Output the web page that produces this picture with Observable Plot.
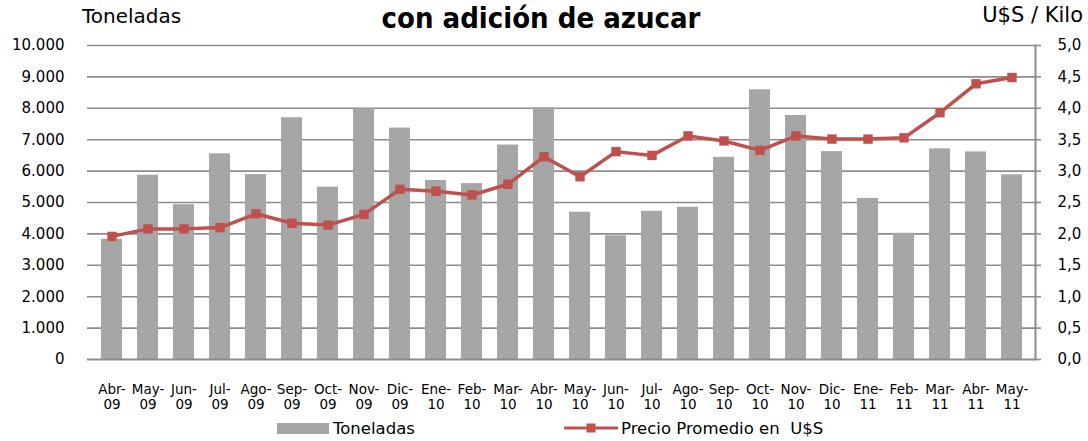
<!DOCTYPE html>
<html>
<head>
<meta charset="utf-8">
<script src="https://cdn.jsdelivr.net/npm/d3@7"></script>
<script src="https://cdn.jsdelivr.net/npm/@observablehq/plot@0.6"></script>
<style>
  html, body { margin: 0; padding: 0; background: #fff; }
  #wrap { position: relative; width: 1088px; height: 441px; overflow: hidden; font-family: "DejaVu Sans", sans-serif; color: #000; }
  #header { position: relative; height: 34px; }
  .hl { position: absolute; font-size: 20px; line-height: 20px; white-space: nowrap; }
  #title { position: absolute; left: 541px; top: 4px; transform: translateX(-50%); font-family: "DejaVu Sans Condensed", "DejaVu Sans", sans-serif; font-weight: bold; font-size: 29px; line-height: 29px; white-space: nowrap; }
  #legend { position: relative; height: 27px; font-size: 16.5px; }
  .lg { position: absolute; white-space: pre; line-height: 17px; top: 6px; }
  svg { display: block; }
</style>
</head>
<body>
<div id="wrap">
  <div id="header">
    <div class="hl" style="left:82px; top:6px;">Toneladas</div>
    <div id="title">con adición de azucar</div>
    <div class="hl" style="right:5px; top:5px; font-size:21px;">U$S / Kilo</div>
  </div>
  <div id="chart"></div>
  <div id="legend">
    <div style="position:absolute; left:277px; top:9px; width:52px; height:11px; background:#a6a6a6;"></div>
    <div class="lg" style="left:333px;">Toneladas</div>
    <svg style="position:absolute; left:562px; top:7px;" width="58" height="14">
      <line x1="2" y1="7" x2="56" y2="7" stroke="#c0504d" stroke-width="3"/>
      <rect x="24.5" y="2.5" width="9" height="9" fill="#c0504d"/>
    </svg>
    <div class="lg" style="left:621px;">Precio Promedio en  U$S</div>
  </div>
</div>
<script>
const meses = ["Abr-09","May-09","Jun-09","Jul-09","Ago-09","Sep-09","Oct-09","Nov-09","Dic-09","Ene-10","Feb-10","Mar-10","Abr-10","May-10","Jun-10","Jul-10","Ago-10","Sep-10","Oct-10","Nov-10","Dic-10","Ene-11","Feb-11","Mar-11","Abr-11","May-11"];
const toneladas = [3830,5870,4930,6550,5890,7700,5490,7980,7370,5700,5600,6830,8020,4690,3940,4720,4850,6440,8590,7770,6620,5130,4020,6710,6610,5880];
const precio = [1.96,2.08,2.08,2.10,2.32,2.17,2.14,2.31,2.71,2.68,2.62,2.79,3.23,2.91,3.31,3.25,3.56,3.48,3.33,3.56,3.51,3.51,3.53,3.93,4.39,4.49];
const ticksToneladas = [0,1000,2000,3000,4000,5000,6000,7000,8000,9000,10000];
const ticksPrecio = [0,0.5,1.0,1.5,2.0,2.5,3.0,3.5,4.0,4.5,5.0];

const ratio = 10000 / 5; // right axis 0–5 mapped onto left 0–10.000
const data = meses.map((m, i) => ({mes: m, toneladas: toneladas[i], precio: precio[i]}));
const loc = d3.formatLocale({decimal: ",", thousands: ".", grouping: [3], currency: ["", ""]});
const fL = loc.format(",.0f");
const fR = loc.format(".1f");
const grid = "#8c8c8c";

const chart = Plot.plot({
  width: 1088,
  height: 380,
  marginTop: 11,
  marginBottom: 55,
  marginLeft: 87,
  marginRight: 53,
  style: {fontFamily: "DejaVu Sans", fontSize: "15px", color: "#000", background: "#fff"},
  x: {domain: meses, paddingInner: 0.43, paddingOuter: 0.215, label: null},
  y: {domain: [0, 10000], label: null},
  marks: [
    Plot.ruleY(ticksToneladas.slice(1), {stroke: grid, strokeWidth: 1.6}),
    Plot.barY(data, {x: "mes", y: "toneladas", fill: "#a6a6a6"}),
    Plot.ruleY([0], {stroke: grid, strokeWidth: 2}),
    Plot.frame({anchor: "right", stroke: grid, strokeWidth: 2}),
    Plot.axisY({anchor: "left", label: null, ticks: ticksToneladas, tickSize: 0, tickPadding: 23, tickFormat: fL, fontSize: 15}),
    Plot.axisY({anchor: "right", label: null, ticks: ticksPrecio.map(d => d * ratio), tickSize: 5, tickPadding: 17, stroke: grid, strokeWidth: 1.6, tickFormat: d => fR(d / ratio), fontSize: 15}),
    Plot.axisX({anchor: "bottom", label: null, tickSize: 0, tickPadding: 24, fontSize: 13.5, lineHeight: 1.12, tickFormat: d => d.replace("-", "-\n")}),
    Plot.line(data, {x: "mes", y: d => d.precio * ratio, stroke: "#c0504d", strokeWidth: 3.5}),
    Plot.dot(data, {x: "mes", y: d => d.precio * ratio, symbol: "square", r: 5.3, fill: "#c0504d"})
  ]
});
document.getElementById("chart").appendChild(chart);
</script>
</body>
</html>
